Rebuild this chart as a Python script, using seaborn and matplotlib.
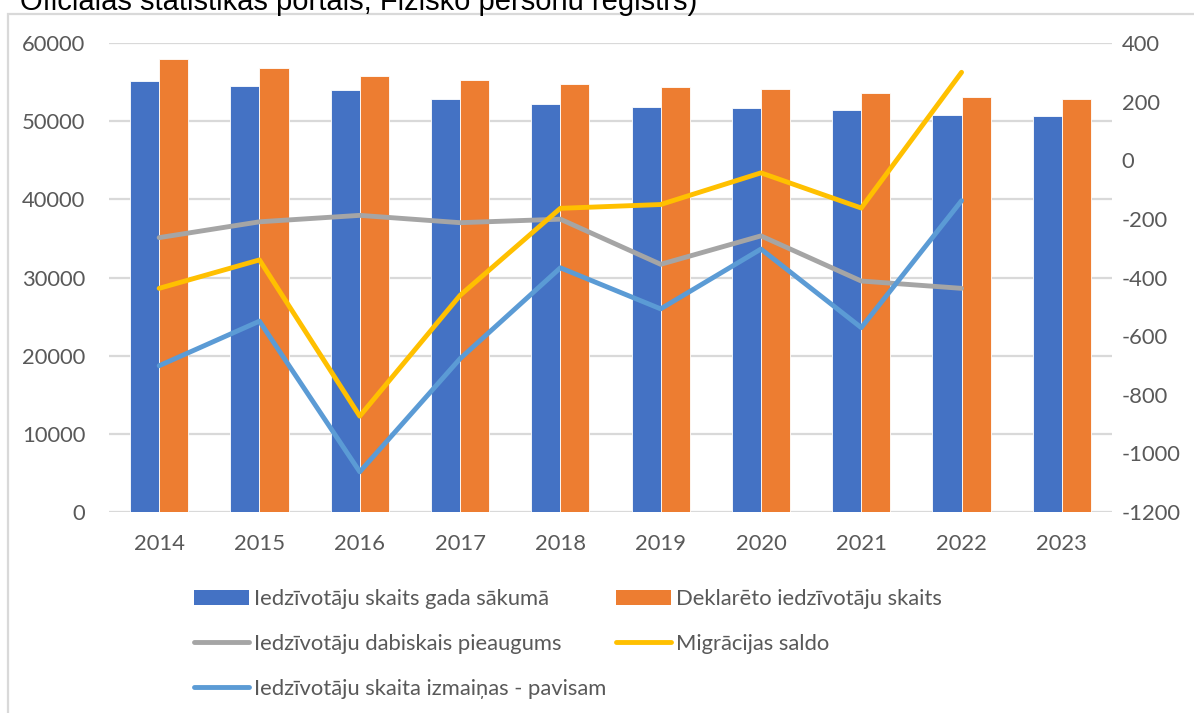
import numpy as np
import pandas as pd
import matplotlib
matplotlib.use("Agg")
import matplotlib.pyplot as plt
import seaborn as sns
from matplotlib.patches import Patch, Rectangle
from matplotlib.lines import Line2D

# ---------------- data ----------------
years = ["2014", "2015", "2016", "2017", "2018", "2019", "2020", "2021", "2022", "2023"]
iedz_gada_sakuma = [55180, 54500, 53950, 52880, 52200, 51810, 51640, 51390, 50790, 50620]
deklareto_skaits = [57910, 56800, 55780, 55230, 54750, 54330, 54070, 53640, 53090, 52800]
dabiskais_pieaugums = [-264, -210, -188, -213, -201, -355, -258, -412, -437, np.nan]
migracijas_saldo = [-437, -340, -873, -461, -164, -151, -43, -163, 300, np.nan]
izmainas_pavisam = [-701, -549, -1063, -677, -367, -507, -303, -571, -138, np.nan]

bar_labels = ["Iedzīvotāju skaits gada sākumā", "Deklarēto iedzīvotāju skaits"]
line_labels = ["Iedzīvotāju dabiskais pieaugums", "Migrācijas saldo",
               "Iedzīvotāju skaita izmaiņas - pavisam"]
header_text = "Oficiālās statistikas portāls; Fizisko personu reģistrs)"

left_ticks = [0, 10000, 20000, 30000, 40000, 50000, 60000]
right_ticks = [-1200, -1000, -800, -600, -400, -200, 0, 200, 400]

# ---------------- styling ----------------
C_BLUE = "#4472C4"
C_ORANGE = "#ED7D31"
C_GRAY = "#A5A5A5"
C_YELLOW = "#FFC000"
C_LBLUE = "#5B9BD5"
C_GRID = "#D9D9D9"
C_TEXT = "#595959"

sns.set_theme(style="white")
plt.rcParams["font.family"] = ["Lato", "DejaVu Sans"]

W, H = 1194, 713
fig = plt.figure(figsize=(W / 100, H / 100), dpi=100)

def fx(px):
    return px / W

def fy(py):
    return 1 - py / H

ax = fig.add_axes([fx(109), fy(512), fx(1112) - fx(109), fy(43) - fy(512)])

bars_df = pd.DataFrame({
    "year": years * 2,
    "value": iedz_gada_sakuma + deklareto_skaits,
    "series": [bar_labels[0]] * len(years) + [bar_labels[1]] * len(years),
})
sns.barplot(data=bars_df, x="year", y="value", hue="series", order=years,
            hue_order=bar_labels, palette=[C_BLUE, C_ORANGE], width=0.58,
            edgecolor="white", linewidth=0.6, saturation=1, ax=ax, legend=False,
            zorder=2)

ax.set_ylim(0, 60000)
ax.set_yticks(left_ticks)
ax.set_yticklabels([str(v) for v in left_ticks])
ax.set_xlim(-0.5, len(years) - 0.5)
ax.grid(axis="y", color=C_GRID, linewidth=1.6, zorder=0)
ax.set_axisbelow(True)
for s in ax.spines.values():
    s.set_visible(False)
ax.set_xlabel("")
ax.set_ylabel("")
ax.tick_params(axis="y", length=0, pad=17, labelsize=15.8, labelcolor=C_TEXT)
ax.tick_params(axis="x", length=0, pad=16, labelsize=15.8, labelcolor=C_TEXT)

ax2 = ax.twinx()
lines_df = pd.DataFrame({
    "pos": list(range(len(years))) * 3,
    "value": dabiskais_pieaugums + migracijas_saldo + izmainas_pavisam,
    "series": [line_labels[0]] * len(years) + [line_labels[1]] * len(years)
              + [line_labels[2]] * len(years),
}).dropna()
sns.lineplot(data=lines_df, x="pos", y="value", hue="series", hue_order=line_labels,
             palette=[C_GRAY, C_YELLOW, C_LBLUE], linewidth=3.5, ax=ax2,
             legend=False, solid_capstyle="round", solid_joinstyle="round")
ax2.set_ylim(-1200, 400)
ax2.set_yticks(right_ticks)
ax2.set_yticklabels([str(v) for v in right_ticks])
ax2.set_xlim(-0.5, len(years) - 0.5)
for s in ax2.spines.values():
    s.set_visible(False)
ax2.set_xlabel("")
ax2.set_ylabel("")
ax2.grid(False)
ax2.tick_params(axis="y", length=0, pad=7, labelsize=15.8, labelcolor=C_TEXT)

# outer chart border (cropped)
fig.patches.append(Rectangle((fx(8), -0.05), 1.2, fy(14) + 0.05, transform=fig.transFigure,
                             fill=False, edgecolor=C_GRID, linewidth=1.6, zorder=0))

# header text, cropped at the top of the image
fig.text(fx(20), fy(9.5), header_text, fontsize=21, color="black",
         family=["Liberation Sans", "DejaVu Sans"], ha="left", va="baseline")

# legend
h_left = [Patch(facecolor=C_BLUE, edgecolor="none"),
          Line2D([], [], color=C_GRAY, lw=3.5, solid_capstyle="round"),
          Line2D([], [], color=C_LBLUE, lw=3.5, solid_capstyle="round")]
l_left = [bar_labels[0], line_labels[0], line_labels[2]]
h_right = [Patch(facecolor=C_ORANGE, edgecolor="none"),
           Line2D([], [], color=C_YELLOW, lw=3.5, solid_capstyle="round")]
l_right = [bar_labels[1], line_labels[1]]

common = dict(loc="upper left", frameon=False, borderpad=0, borderaxespad=0,
              handlelength=2.5, handleheight=0.66, handletextpad=0.25,
              labelspacing=1.13, prop={"size": 15.8})
leg1 = fig.legend(h_left, l_left, bbox_to_anchor=(fx(194), fy(589)), labelcolor=C_TEXT, **common)
leg2 = fig.legend(h_right, l_right, bbox_to_anchor=(fx(616), fy(589)), labelcolor=C_TEXT, **common)

fig.savefig("out.png", dpi=100)
